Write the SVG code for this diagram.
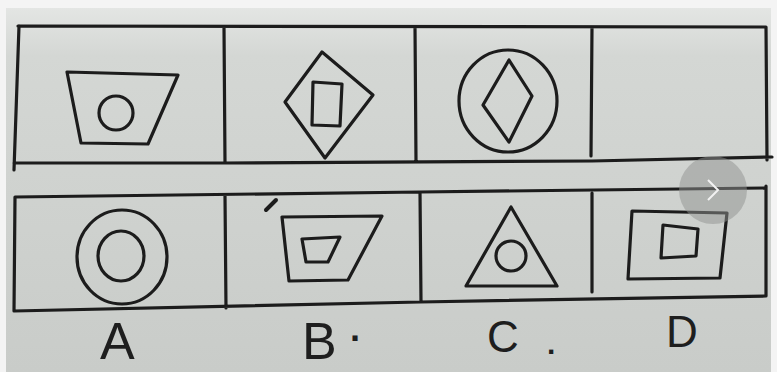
<svg xmlns="http://www.w3.org/2000/svg" width="777" height="372" viewBox="0 0 777 372">
<style>
.ln{fill:none;stroke:#1c1c1c;stroke-width:3.2;stroke-linejoin:round;stroke-linecap:round}
.lbl{font-family:"Liberation Sans",Arial,sans-serif;fill:#1e1e1e}
</style>
<defs>
<linearGradient id="bg" x1="0" y1="0" x2="0" y2="1">
<stop offset="0" stop-color="#e6e8e6"/>
<stop offset="0.15" stop-color="#d4d7d4"/>
<stop offset="1" stop-color="#c9ccc9"/>
</linearGradient>
</defs>
<rect width="777" height="372" fill="url(#bg)"/>
<rect x="0" y="0" width="6" height="372" fill="#f4f4f4"/>
<rect x="771" y="0" width="6" height="372" fill="#f4f4f4"/>
<rect x="0" y="0" width="777" height="8" fill="#f4f4f4"/>
<g id="top-row">
<path class="ln" d="M18 26 L766 27 M19 26 L14 170 M14 163 L224 163 L592 161 L772 157 M224 27 L225 163 M415 27 L416 161 M592 27 L591 156 M766 27 L767 160"/>
</g>
<g id="top-1">
<path class="ln" d="M67 72 L178 75 L148 144 L81 143 Z"/>
<circle class="ln" cx="116" cy="113" r="17"/>
</g>
<g id="top-2">
<path class="ln" d="M322 52 L373 95 L325 158 L285 102 Z"/>
<path class="ln" d="M313 82 L342 84 L340 126 L312 125 Z"/>
</g>
<g id="top-3">
<ellipse class="ln" cx="508" cy="101" rx="49" ry="51"/>
<path class="ln" d="M509 60 L532 96 L509 142 L483 105 Z"/>
</g>
<g id="bottom-row">
<path class="ln" d="M15 197 L420 192 L766 188 M15 197 L14 311 M14 311 L420 302 L766 296 M225 196 L226 308 M420 192 L421 302 M592 193 L592 292 M766 186 L766 296"/>
<path class="ln" d="M266 210 L276 200" style="stroke-width:4"/>
</g>
<g id="opt-A">
<ellipse class="ln" cx="122" cy="257" rx="45" ry="47"/>
<ellipse class="ln" cx="121" cy="256" rx="23" ry="25"/>
</g>
<g id="opt-B">
<path class="ln" d="M282 217 L382 216 L348 280 L289 281 Z"/>
<path class="ln" d="M302 239 L340 237 L328 262 L306 262 Z"/>
</g>
<g id="opt-C">
<path class="ln" d="M511 207 L557 286 L466 286 Z"/>
<circle class="ln" cx="511" cy="256" r="15"/>
</g>
<g id="opt-D">
<path class="ln" d="M632 211 L727 213 L720 278 L628 279 Z"/>
<path class="ln" d="M663 225 L698 229 L696 256 L661 258 Z"/>
</g>
<circle cx="713" cy="190" r="34" fill="#8f918f" fill-opacity="0.5"/>
<path d="M708 180 L718 190 L708 200" fill="none" stroke="#f2f2f2" stroke-width="2"/>
<text class="lbl" x="100" y="359" font-size="52">A</text>
<text class="lbl" x="302" y="359" font-size="52">B</text>
<text class="lbl" x="350" y="351" font-size="36" font-weight="bold">·</text>
<text class="lbl" x="487" y="352" font-size="44">C</text>
<text class="lbl" x="547" y="354" font-size="30" font-weight="bold">.</text>
<text class="lbl" x="666" y="347" font-size="44">D</text>
</svg>
